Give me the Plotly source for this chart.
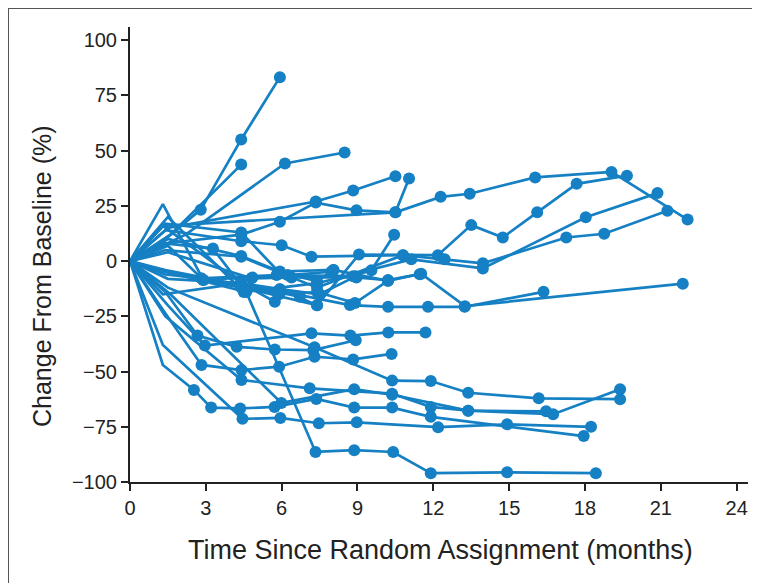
import plotly.graph_objects as go

# Each patient: months since random assignment, % change from baseline
months = [
    [0, 1.4, 2.8, 4.4, 5.93],
    [0, 1.6, 4.4],
    [0, 2.2, 6.13, 8.49],
    [0, 1.5, 7.35, 8.83, 10.5],
    [0, 1.4, 4.4, 5.93, 7.35, 8.96, 10.5, 11.04],
    [0, 1.3, 10.5, 12.29, 13.44, 16.03, 19.05, 22.06],
    [0, 1.5, 4.5, 7.4, 9.06, 12.18, 13.5, 14.75, 16.11, 17.67, 19.66],
    [0, 1.4, 4.4, 7.4, 10.8, 12.45, 13.96, 17.26, 18.76, 21.26],
    [0, 1.5, 4.5, 7.4, 11.13, 13.96, 18.03, 20.87],
    [0, 1.4, 4.4, 6.0, 7.18, 10.8],
    [0, 1.4, 2.82, 5.8, 8.83, 9.55, 10.45],
    [0, 1.5, 4.81, 6.39, 8.96, 10.21, 11.46],
    [0, 1.5, 4.4, 8.7, 10.21, 11.79, 13.24, 16.36],
    [0, 1.3, 4.4, 5.73],
    [0, 1.4, 5.8, 6.72],
    [0, 1.3, 2.9, 4.84, 6.24, 7.97],
    [0, 1.5, 4.4, 5.93, 8.05, 10.21, 11.52, 13.25, 21.87],
    [0, 1.4, 3.28, 4.4, 5.93, 7.5, 8.93],
    [0, 1.4, 4.4, 5.9, 7.4, 8.05],
    [0, 1.3, 4.4, 5.93, 7.4],
    [0, 1.5, 2.9, 4.4, 5.9, 7.4, 8.9, 10.2],
    [0, 1.4, 2.67, 4.22, 5.73, 7.25, 8.93],
    [0, 1.5, 2.96, 7.18, 8.72, 10.22, 11.69],
    [0, 1.3, 2.83, 4.41, 5.9, 7.3, 8.83, 10.35],
    [0, 1.4, 4.41, 7.11, 10.37, 11.9, 13.38, 16.46],
    [0, 1.3, 2.53, 3.21, 4.36, 5.72, 7.37, 8.87, 10.37, 11.9, 17.95],
    [0, 1.3, 4.45, 5.95, 7.47, 8.97, 12.19, 14.92, 18.24],
    [0, 1.5, 7.3, 10.37, 11.9, 13.38, 16.17, 19.39],
    [0, 1.6, 5.99, 8.87, 10.37, 13.38, 16.74, 19.39],
    [0, 1.5, 4.6, 7.34, 8.87, 10.41, 11.9, 14.92, 18.43],
]
change = [
    [0, 10, 23.3, 55.1, 83.3],
    [0, 12, 43.7],
    [0, 12, 44.2, 49.2],
    [0, 15, 27, 32, 38.4],
    [0, 8, 12, 17.8, 26.5, 23, 22.1, 37.4],
    [0, 16, 22.1, 29.1, 30.5, 37.9, 40.4, 18.8],
    [0, -5, -12, -20, 3, 2.7, 16.3, 10.7, 22.1, 35, 38.7],
    [0, 5, 2, -12, 2.7, 0.8, -1, 10.7, 12.4, 22.8],
    [0, 20, -14, -10, 0.8, -3.3, 19.9, 30.8],
    [0, 14, 9, 7.2, 2.0, 2.7],
    [0, -6, -7.8, -6.3, -6.8, -4.1, 11.9],
    [0, 4, -7.8, -7.4, -7.4, -8.6, -5.9],
    [0, -8, -10, -19.9, -20.7, -20.7, -20.7, -13.9],
    [0, -15, -10, -18.4],
    [0, -4, -13.9, -16.1],
    [0, 25.8, -8.5, -7.4, -6.3, -4.8],
    [0, 10, 2.3, -4.7, -4, -8.9, -5.7, -20.4, -10.2],
    [0, 8, 5.7, -11, -12.7, -15, -6.9],
    [0, 17, 13, -5, -9, -4],
    [0, 16, -10, -12.7, -20],
    [0, 7, -8.5, -12, -15, -14, -19, -8.9],
    [0, -14, -33.7, -38.8, -40, -40.3, -35.8],
    [0, -20, -38.2, -32.7, -33.7, -32.3, -32.3],
    [0, -22, -47, -49.3, -47.8, -43.3, -44.5, -42],
    [0, -25, -53.8, -57.6, -60, -66, -67.7, -68],
    [0, -47, -58.3, -66.3, -66.7, -66, -62.4, -66.3, -66.3, -70.5, -79.2],
    [0, -38, -71.4, -71, -73.4, -73, -75.2, -73.9, -75],
    [0, -12, -39, -54.1, -54.3, -59.6, -62.1, -62.5],
    [0, -15, -64.2, -58, -60.5, -67.7, -69.3, -58],
    [0, -5, -14, -86.4, -85.6, -86.4, -96, -95.6, -96],
]

x_ticks = [0, 3, 6, 9, 12, 15, 18, 21, 24]
y_ticks = [-100, -75, -50, -25, 0, 25, 50, 75, 100]
x_title = "Time Since Random Assignment (months)"
y_title = "Change From Baseline (%)"

BLUE = "#1580c3"
FONT = "Liberation Sans, Arial, sans-serif"

# plot-area geometry in figure pixels
L, R, T, B = 122, 740, 19, 474
W, H = R - L, B - T

fig = go.Figure()
for xs, ys in zip(months, change):
    fig.add_trace(go.Scatter(x=xs, y=ys, mode="lines",
                             line=dict(color=BLUE, width=2.7),
                             hoverinfo="skip", showlegend=False))
    mx = [a for a in xs if a >= 2.4]
    my = [b for a, b in zip(xs, ys) if a >= 2.4]
    fig.add_trace(go.Scatter(x=mx, y=my, mode="markers",
                             marker=dict(color=BLUE, size=12),
                             showlegend=False))

fig.update_layout(
    width=760, height=583,
    margin=dict(l=L, r=760 - R, t=T, b=583 - B),
    paper_bgcolor="white", plot_bgcolor="white",
    font=dict(family=FONT, color="#222"),
    xaxis=dict(range=[0, 24.45], tickvals=x_ticks, ticktext=[str(v) for v in x_ticks],
               showline=True, linecolor="#222", linewidth=2, ticks="outside",
               ticklen=7, tickwidth=1.5, tickcolor="#222", showgrid=False,
               zeroline=False, tickfont=dict(size=20, family=FONT)),
    yaxis=dict(range=[-100, 106], tickvals=y_ticks,
               ticktext=[("\u2212" + str(-v)) if v < 0 else str(v) for v in y_ticks],
               showline=True, linecolor="#222", linewidth=2, ticks="outside",
               ticklen=7, tickwidth=1.5, tickcolor="#222", showgrid=False,
               zeroline=False, tickfont=dict(size=20, family=FONT)),
    annotations=[
        dict(text=x_title, xref="paper", yref="paper",
             x=(432 - L) / W, y=(B - 542) / H, xanchor="center", yanchor="middle",
             showarrow=False, font=dict(size=27, family=FONT, color="#222")),
        dict(text=y_title, xref="paper", yref="paper", textangle=-90,
             x=(34 - L) / W, y=(B - 268) / H, xanchor="center", yanchor="middle",
             showarrow=False, font=dict(size=25, family=FONT, color="#222")),
    ],
    shapes=[dict(type="rect", xref="paper", yref="paper",
                 x0=(0 - L) / W, x1=(749 - L) / W,
                 y0=(B - 620) / H, y1=(B - 0) / H,
                 line=dict(color="#555", width=2))],
)

fig.write_html("out.html")
